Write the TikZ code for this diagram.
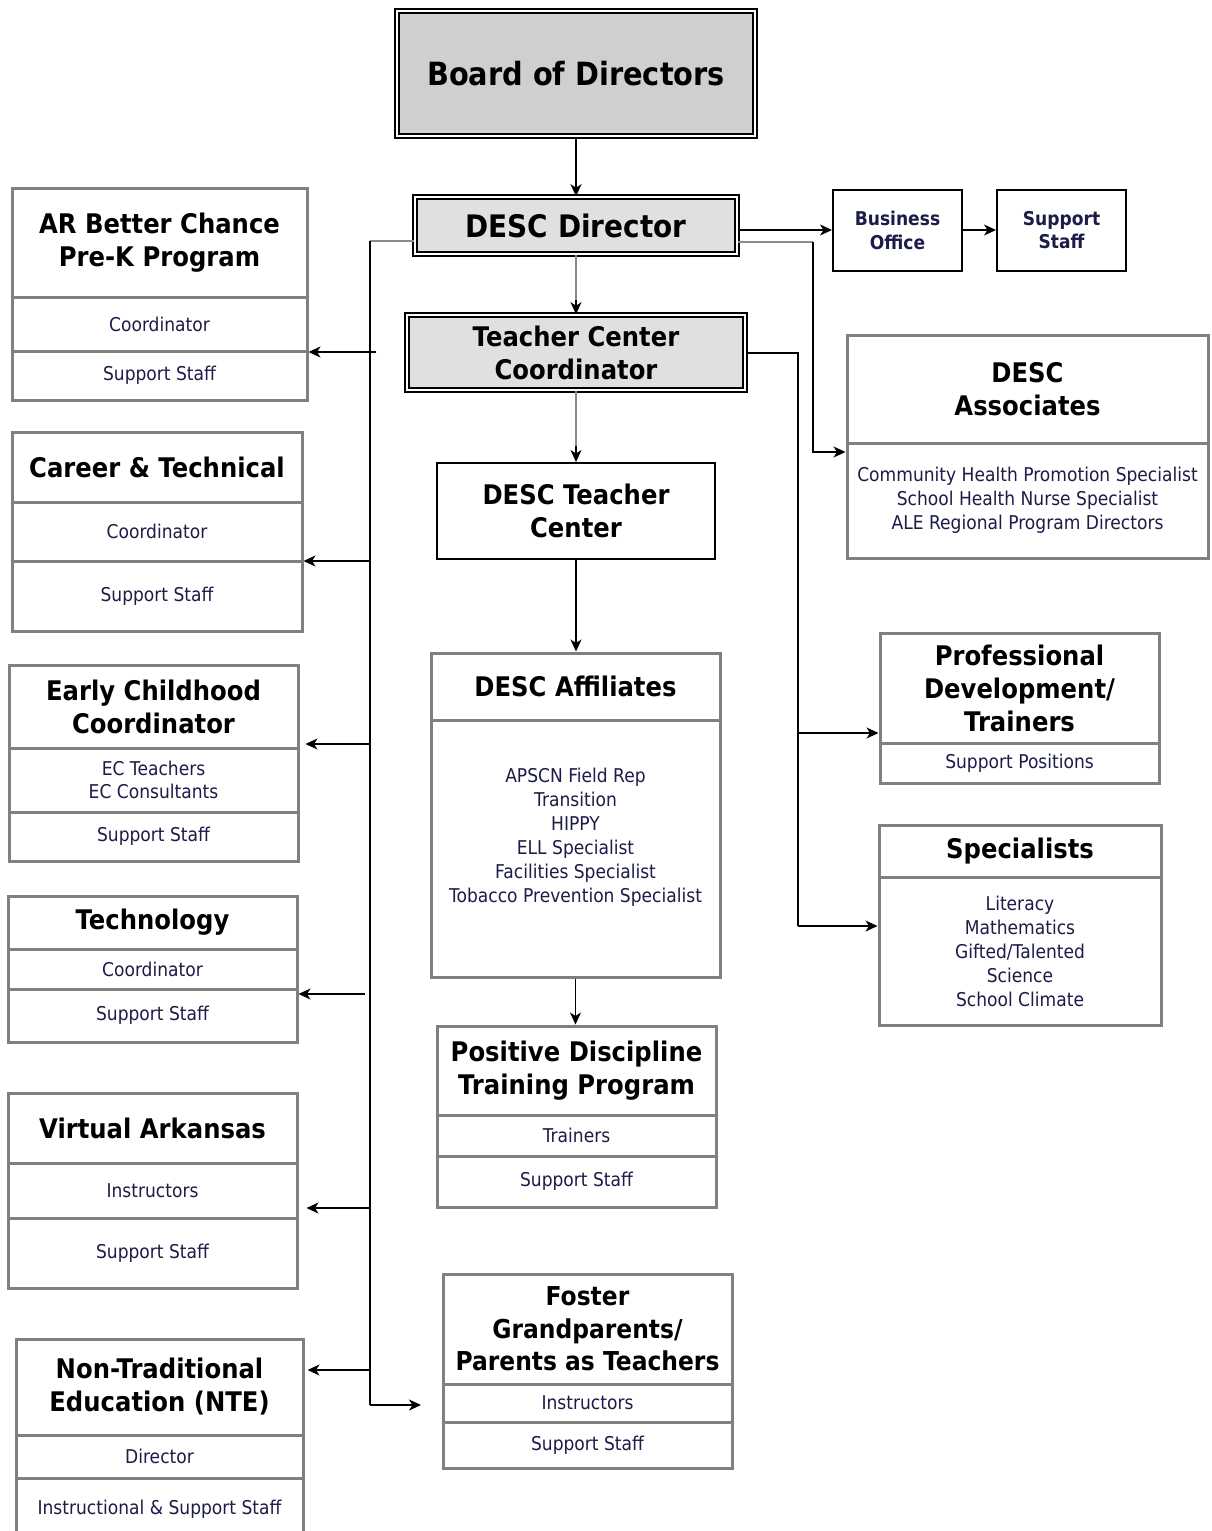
\documentclass[tikz,border=0pt]{standalone}
\usepackage{fontspec}
\setmainfont{DejaVu Sans}[FakeStretch=0.9]
\usetikzlibrary{arrows.meta}
\definecolor{boxgray}{HTML}{7F7F7F}
\definecolor{hdrfill}{HTML}{E0E0E0}
\definecolor{boardfill}{HTML}{CFCFCF}
\definecolor{txtnavy}{HTML}{1C1C48}
\definecolor{linegray}{HTML}{8A8A8A}
\newcommand\smalltxt{\fontsize{19}{24}\selectfont}
\newcommand\ttltxt{\bfseries\fontsize{27}{33}\selectfont}
\newcommand\orgsec[7][]{\node[sec,#1,minimum width={(#5-#3)*1pt},minimum height={(#6-#4)*1pt}] (#2) at ({(#3+#5)/2},{(#4+#6)/2}) {#7};}
\tikzset{
  sec/.style={draw=boxgray, line width=3pt, inner sep=0pt, align=center, text=txtnavy, font=\smalltxt},
  ttl/.style={font=\ttltxt, text=black},
  dbl/.style={draw=black, line width=1.6pt, double=white, double distance=2.4pt, fill=hdrfill, text=black},
  thinbox/.style={draw=black, line width=2pt},
  arr/.style={draw=black, line width=1.5pt, -{Stealth[length=12pt,width=11pt,inset=3.5pt]}},
  ln/.style={draw=black, line width=1.5pt},
  gln/.style={draw=linegray, line width=1.5pt},
}
\begin{document}
\begin{tikzpicture}[x=1pt,y=-1pt]
\useasboundingbox[fill=white] (0,0) rectangle (1212,1531);

% ---- centre column
\orgsec[dbl,fill=boardfill,font={\bfseries\fontsize{32}{38}\selectfont}]{board}{397}{11}{755}{136}{Board of Directors}
\orgsec[dbl,font={\bfseries\fontsize{31}{36}\selectfont}]{dir}{415}{197}{737}{254}{DESC Director}
\orgsec[dbl,ttl]{tcc}{407}{315}{745}{390}{Teacher Center\\Coordinator}
\orgsec[thinbox,ttl]{dtc}{437}{463}{715}{559}{DESC Teacher\\Center}

\orgsec[ttl]{aff1}{431}{653}{720}{720}{DESC Affiliates}
\orgsec{aff2}{431}{720}{720}{977}{}
\node[align=center, text=txtnavy, font=\smalltxt, inner sep=0pt] (afftxt) at (575.5,837) {APSCN Field Rep\\Transition\\HIPPY\\ELL Specialist\\Facilities Specialist\\Tobacco Prevention Specialist};

\orgsec[ttl]{pdt1}{437}{1026}{716}{1115}{Positive Discipline\\Training Program}
\orgsec{pdt2}{437}{1115}{716}{1156}{Trainers}
\orgsec{pdt3}{437}{1156}{716}{1207}{Support Staff}

\orgsec[ttl,font={\bfseries\fontsize{26}{32.5}\selectfont}]{fos1}{443}{1274}{732}{1384}{Foster\\Grandparents/\\Parents as Teachers}
\orgsec{fos2}{443}{1384}{732}{1422}{Instructors}
\orgsec{fos3}{443}{1422}{732}{1468}{Support Staff}

% ---- left column
\orgsec[ttl]{ar1}{12}{188}{307}{297}{AR Better Chance\\Pre-K Program}
\orgsec{ar2}{12}{297}{307}{351}{Coordinator}
\orgsec{ar3}{12}{351}{307}{400}{Support Staff}

\orgsec[ttl]{ct1}{12}{432}{302}{502}{Career \& Technical}
\orgsec{ct2}{12}{502}{302}{561}{Coordinator}
\orgsec{ct3}{12}{561}{302}{631}{Support Staff}

\orgsec[ttl]{ec1}{9}{665}{298}{748}{Early Childhood\\Coordinator}
\orgsec[font={\fontsize{19}{22.5}\selectfont}]{ec2}{9}{748}{298}{812}{EC Teachers\\EC Consultants}
\orgsec{ec3}{9}{812}{298}{861}{Support Staff}

\orgsec[ttl]{te1}{8}{896}{297}{949}{Technology}
\orgsec{te2}{8}{949}{297}{989}{Coordinator}
\orgsec{te3}{8}{989}{297}{1042}{Support Staff}

\orgsec[ttl]{va1}{8}{1093}{297}{1163}{Virtual Arkansas}
\orgsec{va2}{8}{1163}{297}{1218}{Instructors}
\orgsec{va3}{8}{1218}{297}{1288}{Support Staff}

\orgsec[ttl]{nt1}{16}{1339}{303}{1435}{Non-Traditional\\Education (NTE)}
\orgsec{nt2}{16}{1435}{303}{1478}{Director}
\orgsec{nt3}{16}{1478}{303}{1540}{Instructional \& Support Staff}

% ---- right column
\orgsec[thinbox,text=txtnavy,font={\bfseries\fontsize{19}{24}\selectfont}]{bo}{833}{190}{962}{271}{Business\\Office}
\orgsec[thinbox,text=txtnavy,font={\bfseries\fontsize{19}{23}\selectfont}]{ss}{997}{190}{1126}{271}{Support\\Staff}

\orgsec[ttl]{as1}{847}{335}{1208}{443}{DESC\\Associates}
\orgsec{as2}{847}{443}{1208}{558}{Community Health Promotion Specialist\\School Health Nurse Specialist\\ALE Regional Program Directors}

\orgsec[ttl]{pd1}{880}{633}{1159}{743}{Professional\\Development/\\Trainers}
\orgsec{pd2}{880}{743}{1159}{783}{Support Positions}

\orgsec[ttl]{sp1}{879}{825}{1161}{877}{Specialists}
\orgsec{sp2}{879}{877}{1161}{1025}{Literacy\\Mathematics\\Gifted/Talented\\Science\\School Climate}

% ---- connectors: centre
\draw[arr] (board.south) -- (dir.north);
\draw[gln] (dir.south) -- ([yshift=14pt]tcc.north);
\draw[arr] ([yshift=14pt]tcc.north) -- (tcc.north);
\draw[gln] (tcc.south) -- ([yshift=16pt]dtc.north);
\draw[arr] ([yshift=16pt]dtc.north) -- (dtc.north);
\draw[arr] (dtc.south) -- (dtc.south |- aff1.north);
\draw[arr] (aff2.south) -- (aff2.south |- pdt1.north);

% ---- connectors: right
\coordinate (rb) at (813,230);
\draw[arr] (rb -| dir.east) -- (rb -| bo.west);
\draw[arr] (rb -| bo.east) -- (rb -| ss.west);
\coordinate (r1) at (813,242);
\coordinate (r2) at (813,452);
\draw[gln] (r1 -| dir.east) -- (r1);
\draw[arr] (r1) -- (r2) -- (r2 -| as2.west);

\coordinate (t1) at (798,353);
\coordinate (t2) at (798,733);
\coordinate (t3) at (798,926);
\draw[ln] (t1 -| tcc.east) -- (t1) -- (t3);
\draw[arr] (t2) -- (t2 -| pd1.west);
\draw[arr] (t3) -- (t3 -| sp2.west);

% ---- connectors: left bus
\coordinate (l0) at (370,241);
\coordinate (lb) at (370,1405);
\coordinate (lf) at (421,1405);
\draw[gln] (l0 -| dir.west) -- (l0);
\draw[ln] (l0) -- (lb);
\draw[arr] (lb) -- (lf);

\coordinate (a1) at (376,352);
\coordinate (a2) at (370,561);
\coordinate (a3) at (370,744);
\coordinate (a4) at (365,994);
\coordinate (a5) at (370,1208);
\coordinate (a6) at (370,1370);
\draw[arr] (a1) -- (a1 -| ar3.east);
\draw[arr] (a2) -- (a2 -| ct3.east);
\draw[arr, shorten >=6pt] (a3) -- (a3 -| ec1.east);
\draw[arr] (a4) -- (a4 -| te3.east);
\draw[arr, shorten >=8pt] (a5) -- (a5 -| va3.east);
\draw[arr, shorten >=3pt] (a6) -- (a6 -| nt1.east);
\end{tikzpicture}
\end{document}
